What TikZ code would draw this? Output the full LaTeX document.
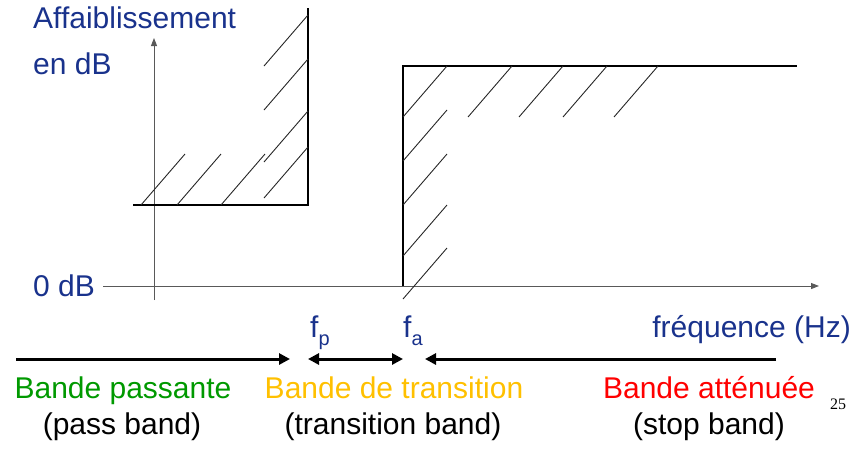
\documentclass[tikz,border=0pt]{standalone}
\usepackage{fontspec}
\setmainfont{Liberation Sans}
\newfontfamily\serifnum{Liberation Serif}
\usetikzlibrary{arrows.meta}
\definecolor{titleblue}{RGB}{25,50,140}
\definecolor{passgreen}{RGB}{0,153,0}
\definecolor{transorange}{RGB}{255,192,0}
\definecolor{stopred}{RGB}{255,0,0}
\begin{document}
\begin{tikzpicture}[x=1pt,y=-1pt,
  lbl/.style={inner sep=0pt, font=\fontsize{30}{36}\selectfont},
  bluelbl/.style={lbl, text=titleblue},
  axisline/.style={draw=black!65, line width=1pt, -{Triangle[length=8pt,width=6pt]}},
  boxline/.style={draw=black, line width=1.6pt},
  hatch/.style={draw=black!85, line width=0.9pt},
  bandarrow/.style={draw=black, line width=3pt, -{Triangle[length=11pt,width=11pt]}},
  bandarrowboth/.style={draw=black, line width=3pt, {Triangle[length=11pt,width=11pt]}-{Triangle[length=11pt,width=11pt]}}]
\useasboundingbox (0,0) rectangle (861,448);

% texts
\node[bluelbl, anchor=base west] (aff) at (33,28) {Affaiblissement};
\node[bluelbl, anchor=base west] (endb) at (33,74) {en dB};
\node[bluelbl, anchor=base west] (zerodb) at (33,296) {0 dB};
\node[bluelbl, anchor=base west] (fp) at (310,337) {f\raisebox{-8pt}{\fontsize{20}{24}\selectfont p}};
\node[bluelbl, anchor=base west] (fa) at (403,337) {f\raisebox{-8pt}{\fontsize{20}{24}\selectfont a}};
\node[bluelbl, anchor=base east] (freq) at (851,337) {fréquence (Hz)};

\node[lbl, text=passgreen, anchor=base] (bp) at (123,398) {Bande passante};
\node[lbl, anchor=base] (pb) at (122,434) {(pass band)};
\node[lbl, text=transorange, anchor=base] (bt) at (394,398) {Bande de transition};
\node[lbl, anchor=base] (tb) at (393,434) {(transition band)};
\node[lbl, text=stopred, anchor=base] (ba) at (709,398) {Bande atténuée};
\node[lbl, anchor=base] (sb) at (709,434) {(stop band)};
\node[inner sep=0pt, anchor=base west, font=\serifnum\fontsize{16}{18}\selectfont] (pg) at (830,409) {25};

% axes
\coordinate (yb) at (154,300);
\coordinate (yt) at (154,38);
\coordinate (xl) at (103,286);
\coordinate (xr) at (819,286);
\draw[axisline] (yb) -- (yt);
\draw[axisline] (xl) -- (xr);

% pass band template
\coordinate (p1) at (133,205);
\coordinate (p2) at (308,205);
\coordinate (p3) at (308,8);
\draw[boxline] (p1) -- (p2) -- (p3);
\foreach \x/\y in {141/205,177/205,221/205,264/198,264/162,264/110,264/66}
  \draw[hatch] (\x,\y) -- ++(44,-51);

% stop band template
\coordinate (s1) at (403,286);
\coordinate (s2) at (403,66);
\coordinate (s3) at (797,66);
\draw[boxline] (s1) -- (s2) -- (s3);
\foreach \x/\y in {403/117,468/117,519/117,563/117,614/117,403/161,403/205,403/256,403/299}
  \draw[hatch] (\x,\y) -- ++(44,-51);

% band arrows
\coordinate (a1s) at (16,359);
\coordinate (a1e) at (290,359);
\coordinate (a2s) at (308,359);
\coordinate (a2e) at (403,359);
\coordinate (a3s) at (776,359);
\coordinate (a3e) at (425,359);
\draw[bandarrow] (a1s) -- (a1e);
\draw[bandarrowboth] (a2s) -- (a2e);
\draw[bandarrow] (a3s) -- (a3e);
\end{tikzpicture}
\end{document}
